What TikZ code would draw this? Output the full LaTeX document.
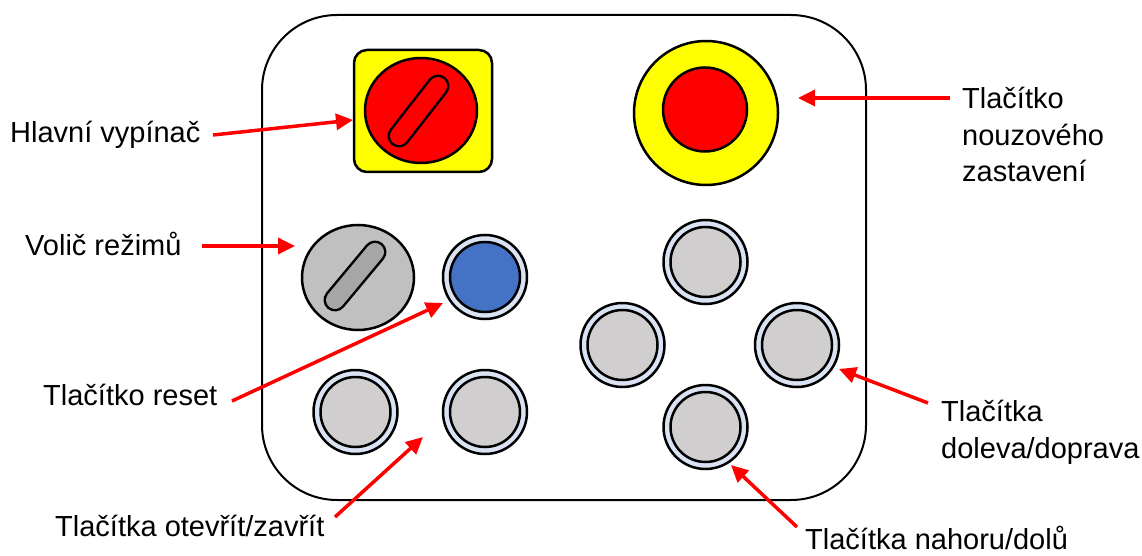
\documentclass[tikz,border=0pt]{standalone}
\usepackage{fontspec}
\setmainfont{Liberation Sans}
\usetikzlibrary{arrows.meta,shapes.geometric}
\definecolor{swyellow}{HTML}{FFFF00}
\definecolor{swred}{HTML}{FF0000}
\definecolor{knobgray}{HTML}{C0C0C0}
\definecolor{slotgray}{HTML}{A6A6A6}
\definecolor{resetblue}{HTML}{4472C4}
\definecolor{ringblue}{HTML}{DAE3F3}
\definecolor{btngray}{HTML}{D0CECE}
\definecolor{arrowred}{HTML}{FF0000}
\tikzset{
  outline/.style={draw=black, line width=2.5pt},
  label/.style={inner sep=0pt, anchor=base west, align=left,
    font=\fontsize{29}{36.5}\selectfont},
  pointer/.style={draw=arrowred, line width=3.5pt,
    -{Triangle[length=17pt,width=16pt]}},
}
% a push button: light ring with a grey cap
\newcommand{\ringbutton}[3]{%
  \node[circle, outline, fill=ringblue, minimum size=84pt, inner sep=0pt] (#1) at (#2) {};
  \fill[#3, draw=black, line width=2.5pt] (#1.center) circle (35pt);
}
% a rotary knob slot: rounded bar with an outline
\newcommand{\knobslot}[3]{%
  \draw[black, line width=23pt, line cap=round] (#1) -- (#2);
  \draw[#3, line width=18pt, line cap=round] (#1) -- (#2);
}
\begin{document}
\begin{tikzpicture}[x=1pt, y=1pt]
\useasboundingbox (0,0) rectangle (1142,555);

% panel
\draw[line width=2pt, rounded corners=75pt] (262,55) rectangle (866,540);

% main switch
\draw[fill=swyellow, draw=black, line width=2.5pt, rounded corners=13pt] (354,383) rectangle (492,505);
\node[ellipse, outline, fill=swred, minimum width=112pt, minimum height=105pt, inner sep=0pt] (mainsw) at (421,444.5) {};
\knobslot{399,419}{438,469}{swred}

% emergency stop
\node[circle, outline, fill=swyellow, minimum size=144pt, inner sep=0pt] (estopring) at (706,442) {};
\node[circle, outline, fill=swred, minimum size=84pt, inner sep=0pt] (estop) at (705,445.5) {};

% mode selector
\node[ellipse, outline, fill=knobgray, minimum width=112pt, minimum height=105pt, inner sep=0pt] (mode) at (358,277.5) {};
\knobslot{335,255}{375,303}{slotgray}

% reset button
\ringbutton{reset}{485,278}{resetblue}

% direction buttons
\ringbutton{up}{705.5,293}{btngray}
\ringbutton{left}{622.5,210}{btngray}
\ringbutton{right}{797,210}{btngray}
\ringbutton{down}{705.5,128}{btngray}

% open / close buttons
\ringbutton{open}{355.5,143}{btngray}
\ringbutton{close}{485,143}{btngray}

% labels (multi-line labels sit on the baseline of their last line)
\node[label] (lmain) at (10,412) {Hlavní vypínač};
\node[label] (lmode) at (25,300) {Volič režimů};
\node[label] (lestop) at (962,373) {Tlačítko\\nouzového\\zastavení};
\node[label] (lreset) at (43,150) {Tlačítko reset};
\node[label] (lopen) at (55,19) {Tlačítka otevřít/zavřít};
\node[label] (llr) at (941,97) {Tlačítka\\doleva/doprava};
\node[label] (lud) at (805,6) {Tlačítka nahoru/dolů};

% arrow ends
\coordinate (amain0) at (213,420);  \coordinate (amain1) at (353,435);
\coordinate (amode0) at (202,309);  \coordinate (amode1) at (295,309);
\coordinate (aestop0) at (950,457); \coordinate (aestop1) at (798,457);
\coordinate (areset0) at (232,154); \coordinate (areset1) at (443,252);
\coordinate (aopen0) at (335,38);   \coordinate (aopen1) at (423,118);
\coordinate (alr0) at (928,152);    \coordinate (alr1) at (839,186);
\coordinate (aud0) at (797,28);     \coordinate (aud1) at (731,90);

\draw[pointer] (amain0) -- (amain1);
\draw[pointer] (amode0) -- (amode1);
\draw[pointer] (aestop0) -- (aestop1);
\draw[pointer] (areset0) -- (areset1);
\draw[pointer] (aopen0) -- (aopen1);
\draw[pointer] (alr0) -- (alr1);
\draw[pointer] (aud0) -- (aud1);
\end{tikzpicture}
\end{document}
